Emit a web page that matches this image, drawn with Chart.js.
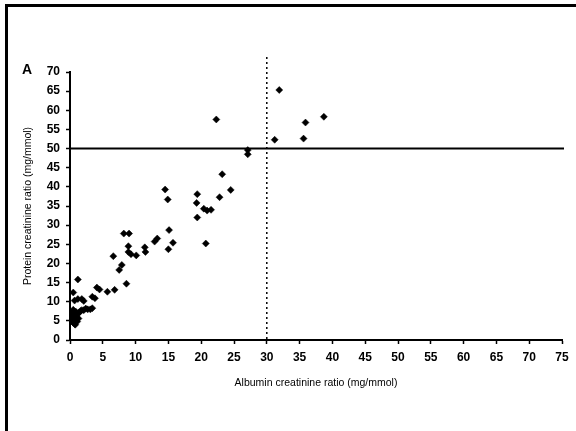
<!DOCTYPE html>
<html>
<head>
<meta charset="utf-8">
<script src="https://cdn.jsdelivr.net/npm/chart.js@4"></script>
<style>
  body { margin: 0; background: #fff; }
  #wrap { position: relative; width: 576px; height: 431px; overflow: hidden; }
  #frame { position: absolute; left: 5px; top: 4px; width: 600px; height: 460px;
           border-left: 3px solid #000; border-top: 3px solid #000; }
  canvas { position: absolute; left: 0; top: 0; }
</style>
</head>
<body>
<div id="wrap">
  <div id="frame"></div>
  <canvas id="chartAcr" width="576" height="431"></canvas>
</div>
<script>
// Albumin creatinine ratio (x) vs protein creatinine ratio (y)
const acrValues = [
  0.3, 0.5, 0.7, 0.4, 0.8, 1.0, 0.6, 0.3, 1.2, 1.4, 0.9, 1.6, 0.5, 1.1, 0.2, 1.3, 1.8, 2.1, 0.8, 0.4,
  2.4, 2.7, 3.1, 3.4,
  0.7, 1.2, 1.8, 2.1, 0.5, 1.2,
  3.4, 3.8, 4.1, 4.5, 5.7, 6.8, 8.6,
  6.6, 7.5, 7.9, 8.2, 9.0, 8.9, 8.9, 9.3, 10.1, 11.4, 11.5, 12.9, 13.3,
  14.5, 14.9, 15.1, 15.0, 15.7,
  19.4, 19.3, 19.4, 20.4, 20.9, 21.5, 20.7,
  22.8, 24.5, 23.2, 22.3, 27.1, 27.1,
  31.9, 31.2, 35.6, 35.9, 38.7
];
const pcrValues = [
  5.0, 4.5, 4.2, 5.8, 5.3, 6.0, 6.5, 6.8, 6.8, 7.2, 7.4, 7.6, 7.9, 4.8, 5.5, 5.6, 7.8, 7.8, 4.0, 7.2,
  8.2, 8.0, 8.0, 8.3,
  10.3, 10.7, 10.7, 10.2, 12.4, 15.8,
  11.3, 10.9, 13.7, 13.2, 12.6, 13.1, 14.7,
  21.9, 18.3, 19.6, 27.8, 27.8, 24.5, 23.0, 22.4, 22.1, 24.2, 23.0, 25.7, 26.5,
  39.3, 36.7, 28.7, 23.7, 25.4,
  38.1, 35.8, 32.0, 34.3, 33.8, 34.0, 25.2,
  37.3, 39.2, 43.3, 57.6, 49.6, 48.5,
  65.3, 52.3, 52.6, 56.8, 58.3
];
const xTicks = [0, 5, 10, 15, 20, 25, 30, 35, 40, 45, 50, 55, 60, 65, 70, 75];
const yTicks = [0, 5, 10, 15, 20, 25, 30, 35, 40, 45, 50, 55, 60, 65, 70];
const pcrCutoff = 50;
const acrCutoff = 30;

const points = acrValues.map((x, i) => ({ x: x, y: pcrValues[i] }));

// cut-off lines and panel letter
const cutoffLines = {
  id: "cutoffLines",
  afterDatasetsDraw(chart) {
    const ctx = chart.ctx;
    const xs = chart.scales.x;
    const ys = chart.scales.y;
    ctx.save();
    ctx.strokeStyle = "#000";
    // horizontal PCR line
    const yPix = ys.getPixelForValue(pcrCutoff);
    ctx.lineWidth = 2;
    ctx.beginPath();
    ctx.moveTo(xs.left, yPix);
    ctx.lineTo(xs.right + 2, yPix);
    ctx.stroke();
    // vertical ACR line, dotted
    const xPix = xs.getPixelForValue(acrCutoff);
    ctx.lineWidth = 1.5;
    ctx.setLineDash([2, 3]);
    ctx.beginPath();
    ctx.moveTo(xPix, ys.top - 15);
    ctx.lineTo(xPix, ys.bottom);
    ctx.stroke();
    ctx.setLineDash([]);
    // panel letter
    ctx.fillStyle = "#000";
    ctx.font = "bold 14px 'Liberation Sans', Arial, sans-serif";
    ctx.textAlign = "center";
    ctx.textBaseline = "middle";
    ctx.fillText("A", 27, 70);
    ctx.restore();
  },
};

const tickFont = { family: "'Liberation Sans', Arial, sans-serif", size: 12, weight: "bold" };
const titleFont = { family: "'Liberation Sans', Arial, sans-serif", size: 10.5 };

new Chart(document.getElementById("chartAcr").getContext("2d"), {
  type: "scatter",
  data: {
    datasets: [
      {
        data: points,
        pointStyle: "rectRot",
        pointRadius: 3.5,
        pointBackgroundColor: "#000",
        pointBorderColor: "#000",
        pointBorderWidth: 0.5,
      },
    ],
  },
  options: {
    responsive: false,
    animation: false,
    events: [],
    layout: { padding: { left: 14, top: 72, right: 14, bottom: 40 } },
    plugins: { legend: { display: false }, tooltip: { enabled: false } },
    scales: {
      x: {
        type: "linear",
        min: 0,
        max: 75,
        afterBuildTicks: (s) => { s.ticks = xTicks.map((v) => ({ value: v })); },
        afterFit: (s) => { s.height = 51; s.paddingLeft = 0; s.paddingRight = 0; },
        grid: { drawOnChartArea: false, drawTicks: true, tickLength: 4, tickWidth: 1.5, tickColor: "#000" },
        border: { color: "#000", width: 2 },
        ticks: { color: "#000", font: tickFont, padding: 6, maxRotation: 0, autoSkip: false },
        title: { display: true, text: "Albumin creatinine ratio (mg/mmol)", color: "#000", font: titleFont, padding: { top: 0, bottom: 2 } },
      },
      y: {
        type: "linear",
        min: 0,
        max: 70,
        afterBuildTicks: (s) => { s.ticks = yTicks.map((v) => ({ value: v })); },
        afterFit: (s) => { s.width = 56; s.paddingTop = 0; s.paddingBottom = 0; },
        grid: { drawOnChartArea: false, drawTicks: true, tickLength: 4, tickWidth: 1.5, tickColor: "#000" },
        border: { color: "#000", width: 2 },
        ticks: { color: "#000", font: tickFont, padding: 6, autoSkip: false },
        title: { display: true, text: "Protein creatinine ratio (mg/mmol)", color: "#000", font: titleFont, padding: { top: 8, bottom: 0 } },
      },
    },
  },
  plugins: [cutoffLines],
});
</script>
</body>
</html>
